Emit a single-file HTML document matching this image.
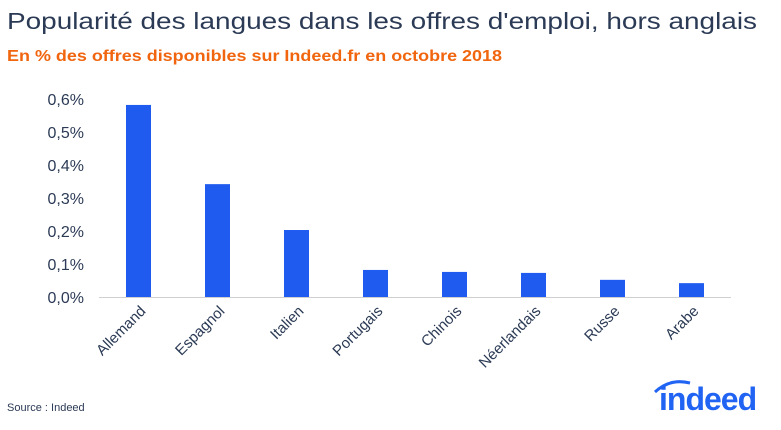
<!DOCTYPE html>
<html><head><meta charset="utf-8"><style>
body{margin:0;background:#fff;width:781px;height:425px;overflow:hidden;font-family:"Liberation Sans",sans-serif}
</style></head><body>
<svg width="781" height="425">
<text x="7" y="29" font-size="23" fill="#2b3a55" textLength="750" lengthAdjust="spacingAndGlyphs">Popularité des langues dans les offres d'emploi, hors anglais</text>
<text x="7" y="61" font-size="16" font-weight="bold" fill="#f0650e" textLength="495" lengthAdjust="spacingAndGlyphs">En % des offres disponibles sur Indeed.fr en octobre 2018</text>
<g id="yaxis"></g><g id="bars"></g><g id="xlabels"></g>
<line x1="99" x2="731" y1="297.5" y2="297.5" stroke="#d0d0d0" stroke-width="1"/>
<text x="7" y="411" font-size="11" fill="#2b3a55">Source : Indeed</text>
<g>
<path d="M655 392 Q670 378 690 383" stroke="#2164f3" stroke-width="3" fill="none"/>
<text x="659" y="410" font-size="32" font-weight="bold" fill="#2164f3" letter-spacing="-1">indeed</text>
</g>
</svg>
<script>
const categories=["Allemand","Espagnol","Italien","Portugais","Chinois","Néerlandais","Russe","Arabe"];
const values=[0.582,0.342,0.203,0.082,0.076,0.073,0.052,0.042];
const yTicks=[0,0.1,0.2,0.3,0.4,0.5,0.6];
const yTickLabels=["0,0%","0,1%","0,2%","0,3%","0,4%","0,5%","0,6%"];
const NS="http://www.w3.org/2000/svg";
const y0=297,pxPer=330,x0=99,band=79,bw=25;
const y=v=>y0-v*pxPer;
const xc=i=>x0+band*i+band/2;
function mk(tag,attrs,parent,txt){const e=document.createElementNS(NS,tag);for(const k in attrs)e.setAttribute(k,attrs[k]);if(txt!==undefined)e.textContent=txt;parent.appendChild(e);return e;}
const ya=document.getElementById('yaxis'),bg=document.getElementById('bars'),xl=document.getElementById('xlabels');
yTicks.forEach((t,i)=>{
 const e=mk('text',{x:84,y:y(t)+6,'text-anchor':'end','font-size':16,fill:'#2b3a55'},ya,yTickLabels[i]);
 
 
});
values.forEach((v,i)=>{
 const r=mk('rect',{x:xc(i)-bw/2,y:y(v),width:bw,height:y0-y(v),fill:'#1f5bef'},bg);
 
 
 const lx=xc(i)+8,ly=312;
 const t=mk('text',{x:lx,y:ly,'text-anchor':'end','font-size':15,fill:'#2b3a55',transform:`rotate(-45 ${lx} ${ly})`},xl,categories[i]);
 
 
});
</script>
</body></html>
